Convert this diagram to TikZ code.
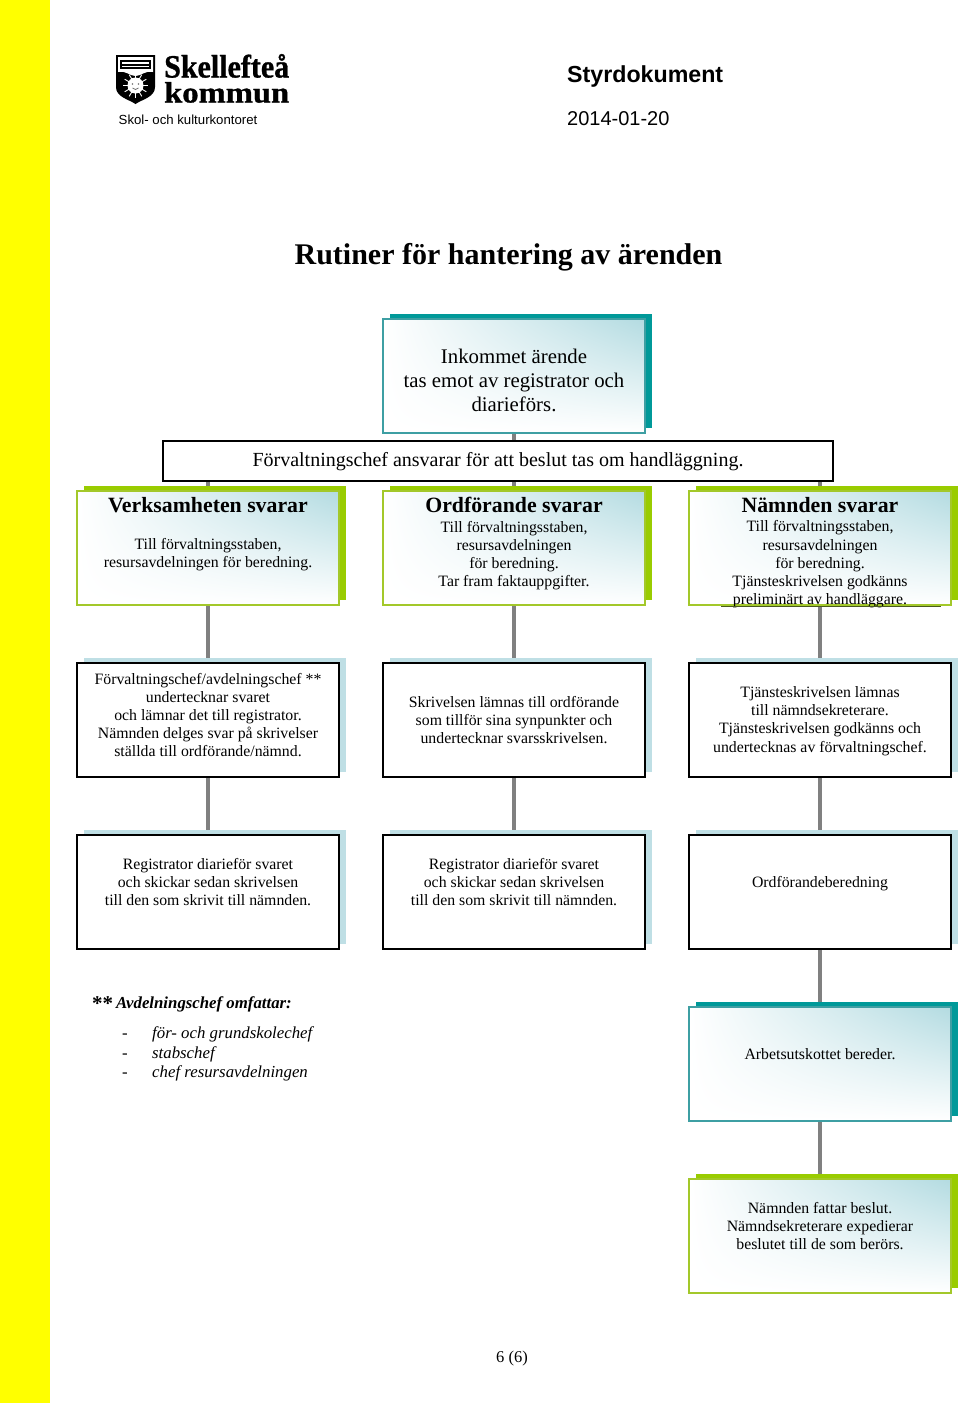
\documentclass[tikz,border=0pt]{standalone}
\usepackage{fontspec}
\setmainfont{Liberation Serif}
\newfontfamily\arialf{Liberation Sans}
\newfontfamily\logofont[UprightFont=* Bold,FakeBold=1.0]{Liberation Serif}
\usetikzlibrary{shadings,shadows,backgrounds}
\definecolor{tealb}{HTML}{3E9FA3}
\definecolor{tealsh}{HTML}{009999}
\definecolor{greenb}{HTML}{A3C82A}
\definecolor{greensh}{HTML}{99CC00}
\definecolor{grad}{HTML}{B3DBE1}
\definecolor{paleblue}{HTML}{BFDFE5}
\definecolor{conn}{HTML}{808080}
\definecolor{yel}{HTML}{FFFF00}
\definecolor{olive}{HTML}{4A5A20}
\tikzset{
 basebox/.style={minimum width=262pt,minimum height=114pt,inner sep=0pt,outer sep=0pt,line width=1.6pt},
 gradfill/.style={shade,upper left=white,upper right=grad,lower left=white,lower right=white},
 tealbox/.style={basebox,draw=tealb,gradfill,drop shadow={opacity=1,fill=tealsh,shadow xshift=6.5pt,shadow yshift=5pt}},
 greenbox/.style={basebox,draw=greenb,gradfill,drop shadow={opacity=1,fill=greensh,shadow xshift=6.5pt,shadow yshift=5pt}},
 plainbox/.style={basebox,draw=black,fill=white,drop shadow={opacity=1,fill=paleblue,shadow xshift=6.5pt,shadow yshift=5pt}},
 striphead/.style={minimum width=670pt,minimum height=40pt,inner sep=0pt,outer sep=0pt,draw=black,fill=white,line width=1.6pt},
 conline/.style={draw=conn,line width=4pt},
 boxtext/.style={align=center,inner sep=0pt,font=\fontsize{15.8}{18.2}\selectfont},
 bigtext/.style={align=center,inner sep=0pt,font=\fontsize{20.8}{24}\selectfont},
 headtext/.style={inner sep=0pt,font=\fontsize{21.8}{24}\selectfont\bfseries},
 itemtext/.style={inner sep=0pt,anchor=base west,font=\fontsize{16.8}{20}\selectfont\itshape},
 sanstext/.style={inner sep=0pt,anchor=base west},
}
\begin{document}
\begin{tikzpicture}[x=1pt,y=-1pt]
\useasboundingbox (0,0) rectangle (960,1403);
\begin{scope}[on background layer]
\fill[white] (0,0) rectangle (960,1403);
\fill[yel] (0,0) rectangle (50,1403);
\end{scope}

% logo
\fill[black] (116,55) -- (155,55) -- (155,87) .. controls (155,97) and (143,99) .. (135.5,104) .. controls (128,99) and (116,97) .. (116,87) -- cycle;
\fill[white] (118,57) -- (153,57) -- (153,72) .. controls (146,70) and (141,76) .. (135.5,76) .. controls (130,76) and (125,70) .. (118,72) -- cycle;
\fill[black] (120,60) rectangle (151,69);
\fill[white] (122,62) rectangle (149,64);
\fill[white] (122,66) rectangle (149,67);
\foreach \a in {0,30,...,330}{\draw[white,line width=0.9pt] (135.5,85.5) -- ++(\a:12.5);}
\fill[white] (135.5,85.5) circle (8);
\fill[black!55] (132.5,84) circle (0.9);
\fill[black!55] (138.5,84) circle (0.9);
\draw[black!55,line width=0.7pt] (132.5,88) .. controls (134.5,90) and (136.5,90) .. (138.5,88);
\node[inner sep=0pt,anchor=base west] (logoa) at (164,77.5) {\resizebox{125pt}{23.5pt}{\logofont Skellefteå}};
\node[inner sep=0pt,anchor=base west] (logob) at (164,102.5) {\resizebox{125pt}{20.5pt}{\logofont kommun}};
\node[sanstext,font=\arialf\fontsize{13.2}{16}\selectfont] (dept) at (118.5,124.5) {Skol- och kulturkontoret};
\node[sanstext,font=\arialf\bfseries\fontsize{23.2}{26}\selectfont] (styr) at (567,82) {Styrdokument};
\node[sanstext,font=\arialf\fontsize{20}{24}\selectfont] (datum) at (567,125) {2014-01-20};
\node[inner sep=0pt,font=\bfseries\fontsize{30}{34}\selectfont] (title) at (508.5,257) {Rutiner för hantering av ärenden};

% boxes
\node[tealbox] (b0) at (514,376) {};
\node[striphead] (strip) at (498,461) {};
\coordinate (s1) at (208,481);
\coordinate (s2) at (514,481);
\coordinate (s3) at (820,481);
\coordinate (s0) at (514,441);
\node[greenbox] (a1) at (208,548) {};
\node[greenbox] (a2) at (514,548) {};
\node[greenbox] (a3) at (820,548) {};
\node[plainbox] (c1) at (208,720) {};
\node[plainbox] (c2) at (514,720) {};
\node[plainbox] (c3) at (820,720) {};
\node[plainbox] (d1) at (208,892) {};
\node[plainbox] (d2) at (514,892) {};
\node[plainbox] (d3) at (820,892) {};
\node[tealbox] (e3) at (820,1064) {};
\node[greenbox] (f3) at (820,1236) {};

\begin{scope}[on background layer]
\draw[conline] (b0.south) -- (s0);
\draw[conline] (s1) -- (a1.north);
\draw[conline] (s2) -- (a2.north);
\draw[conline] (s3) -- (a3.north);
\draw[conline] (a1.south) -- (c1.north);
\draw[conline] (a2.south) -- (c2.north);
\draw[conline] (a3.south) -- (c3.north);
\draw[conline] (c1.south) -- (d1.north);
\draw[conline] (c2.south) -- (d2.north);
\draw[conline] (c3.south) -- (d3.north);
\draw[conline] (d3.south) -- (e3.north);
\draw[conline] (e3.south) -- (f3.north);
\end{scope}

% texts
\node[bigtext] (t0) at (514,380) {Inkommet ärende\\tas emot av registrator och\\diarieförs.};
\node[inner sep=0pt,font=\fontsize{20}{23}\selectfont] (tstrip) at (498,462) {Förvaltningschef ansvarar för att beslut tas om handläggning.};

\node[headtext] (h1) at (208,505) {Verksamheten svarar};
\node[boxtext] (t1) at (208,554.5) {Till förvaltningsstaben,\\resursavdelningen för beredning.};
\node[headtext] (h2) at (514,505) {Ordförande svarar};
\node[boxtext] (t2) at (514,555.5) {Till förvaltningsstaben,\\resursavdelningen\\för beredning.\\Tar fram faktauppgifter.};
\node[headtext] (h3) at (820,505) {Nämnden svarar};
\node[boxtext] (t3) at (820,564.5) {Till förvaltningsstaben,\\resursavdelningen\\för beredning.\\Tjänsteskrivelsen godkänns\\preliminärt av handläggare.};
\coordinate (ula) at (721,606.5);
\coordinate (ulb) at (941,606.5);
\draw[olive,line width=1.4pt] (ula) -- (ulb);

\node[boxtext] (t4) at (208,715) {Förvaltningschef/avdelningschef **\\undertecknar svaret\\och lämnar det till registrator.\\Nämnden delges svar på skrivelser\\ställda till ordförande/nämnd.};
\node[boxtext] (t5) at (514,720) {Skrivelsen lämnas till ordförande\\som tillför sina synpunkter och\\undertecknar svarsskrivelsen.};
\node[boxtext] (t6) at (820,721) {Tjänsteskrivelsen lämnas\\till nämndsekreterare.\\Tjänsteskrivelsen godkänns och\\undertecknas av förvaltningschef.};
\node[boxtext] (t7) at (208,882) {Registrator diarieför svaret\\och skickar sedan skrivelsen\\till den som skrivit till nämnden.};
\node[boxtext] (t8) at (514,882) {Registrator diarieför svaret\\och skickar sedan skrivelsen\\till den som skrivit till nämnden.};
\node[boxtext] (t9) at (820,884) {Ordförandeberedning};
\node[boxtext] (t10) at (820,1054) {Arbetsutskottet bereder.};
\node[boxtext] (t11) at (820,1226) {Nämnden fattar beslut.\\Nämndsekreterare expedierar\\beslutet till de som berörs.};

% note
\node[inner sep=0pt,anchor=base west,font=\bfseries\fontsize{21}{24}\selectfont] (stars) at (92,1010) {**};
\node[inner sep=0pt,anchor=base west,font=\bfseries\itshape\fontsize{16.8}{20}\selectfont] (nh) at (116,1008.5) {Avdelningschef omfattar:};
\node[itemtext] (d1a) at (122,1038.5) {-};
\node[itemtext] (i1) at (152,1038.5) {för- och grundskolechef};
\node[itemtext] (d2a) at (122,1058) {-};
\node[itemtext] (i2) at (152,1058) {stabschef};
\node[itemtext] (d3a) at (122,1077) {-};
\node[itemtext] (i3) at (152,1077) {chef resursavdelningen};

\node[inner sep=0pt,font=\fontsize{16.5}{20}\selectfont] (page) at (512,1359) {6 (6)};
\end{tikzpicture}
\end{document}
